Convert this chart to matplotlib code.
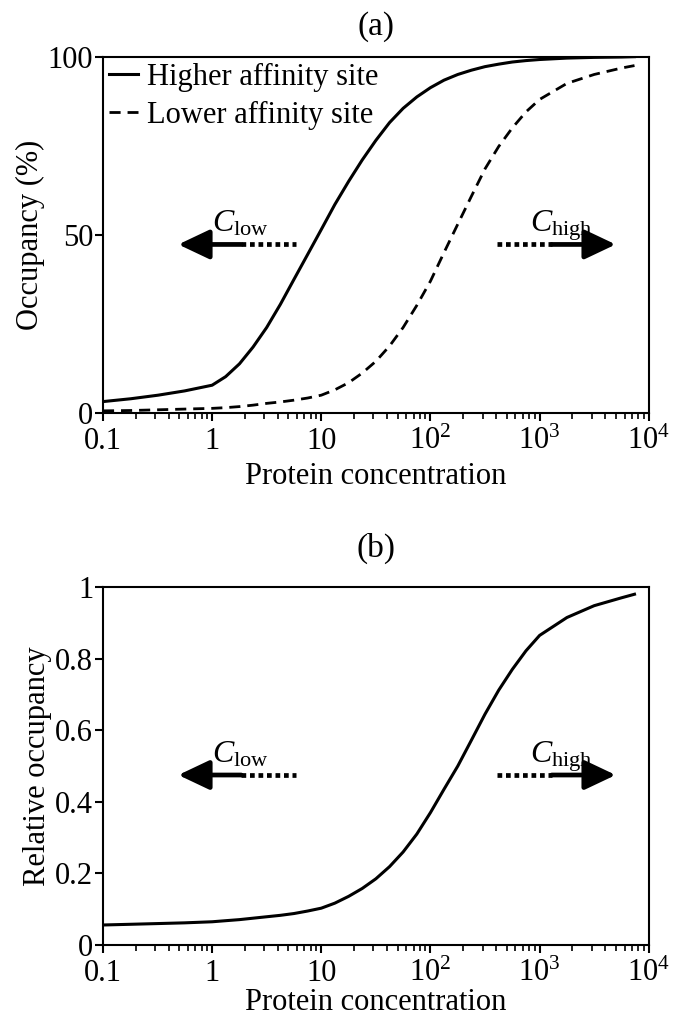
import numpy as np
import matplotlib
matplotlib.use("Agg")
import matplotlib.pyplot as plt
from matplotlib.ticker import FixedLocator, FixedFormatter, LogLocator, NullFormatter

plt.rcParams['font.family'] = ['Liberation Serif', 'DejaVu Serif']
plt.rcParams['mathtext.fontset'] = 'custom'
plt.rcParams['mathtext.rm'] = 'Liberation Serif'
plt.rcParams['mathtext.it'] = 'Liberation Serif:italic'

# concentrations
conc = [0.1, 0.18, 0.32, 0.56, 1, 1.33, 1.78, 2.37, 3.16, 4.22, 5.62, 7.5,
        10, 13.3, 17.8, 23.7, 31.6, 42.2, 56.2, 75, 100, 133, 178, 237, 316,
        422, 562, 750, 1000, 1780, 3160, 5620, 7400]

# (a) occupancy in %
high_site = [3.2, 4.0, 5.0, 6.2, 7.8, 10.2, 13.8, 18.5, 24, 30.5, 37.5, 44.5,
             51.5, 58.5, 65, 71, 76.5, 81.5, 85.5, 88.7, 91.3, 93.4, 95, 96.2, 97.2,
             97.9, 98.5, 98.9, 99.2, 99.6, 99.8, 99.9, 100]
low_site = [0.6, 0.7, 0.9, 1.1, 1.3, 1.5, 1.8, 2.2, 2.7, 3.1, 3.6, 4.2,
            5.0, 6.5, 8.5, 11.2, 14.5, 18.8, 24, 30.2, 37, 45, 53, 60.8, 68.5,
            74.8, 80, 84.5, 88, 92.5, 95, 96.8, 97.5]

# (b) relative occupancy
relative = [0.056, 0.058, 0.06, 0.062, 0.065, 0.068, 0.071, 0.075, 0.079, 0.083, 0.088, 0.095,
            0.103, 0.117, 0.136, 0.158, 0.185, 0.219, 0.26, 0.31, 0.37, 0.435, 0.50, 0.572, 0.645,
            0.712, 0.77, 0.822, 0.865, 0.915, 0.948, 0.97, 0.98]

xticks = [0.1, 1, 10, 100, 1000, 10000]
xticklabels = ['0.1', '1', '10', '$10^2$', '$10^3$', '$10^4$']

FS = 22


def style_axis(ax, ylim, yticks, yticklabels, ylabel, title, title_pad, xlabel_pad):
    ax.set_xscale('log')
    ax.set_xlim(0.1, 1e4)
    ax.set_ylim(*ylim)
    ax.xaxis.set_major_locator(FixedLocator(xticks))
    ax.xaxis.set_major_formatter(FixedFormatter(xticklabels))
    ax.xaxis.set_minor_locator(LogLocator(base=10, subs=np.arange(2, 10)))
    ax.xaxis.set_minor_formatter(NullFormatter())
    ax.set_yticks(yticks)
    ax.set_yticklabels(yticklabels)
    ax.tick_params(axis='both', which='major', direction='out', length=6,
                   width=1.5, labelsize=FS, pad=1)
    ax.tick_params(axis='x', which='minor', direction='out', length=4, width=1.2)
    ax.tick_params(axis='x', which='major', pad=4)
    for s in ax.spines.values():
        s.set_linewidth(1.5)
    ax.set_xlabel('Protein concentration', fontsize=FS, labelpad=xlabel_pad)
    ax.set_ylabel(ylabel, fontsize=FS, labelpad=2)
    ax.set_title(title, fontsize=24, pad=title_pad)


def draw_arrows(ax, y, ytext):
    # C_low: dotted tail, solid shaft, arrowhead to the left
    ax.plot([1.85, 5.9], [y, y], color='k', lw=3.4, linestyle=(0, (1, 0.8)),
            dash_capstyle='butt')
    ax.annotate('', xy=(0.49, y), xytext=(1.85, y),
                arrowprops=dict(arrowstyle='-|>,head_length=1.9,head_width=0.9',
                                mutation_scale=10, lw=3.4, color='k',
                                shrinkA=0, shrinkB=0))
    ax.text(1.0, ytext, r'$C_{\mathrm{low}}$', fontsize=23, ha='left', va='baseline')
    # C_high: dotted tail, solid shaft, arrowhead to the right
    ax.plot([405, 1290], [y, y], color='k', lw=3.4, linestyle=(0, (1, 0.8)),
            dash_capstyle='butt')
    ax.annotate('', xy=(4980, y), xytext=(1290, y),
                arrowprops=dict(arrowstyle='-|>,head_length=1.9,head_width=0.9',
                                mutation_scale=10, lw=3.4, color='k',
                                shrinkA=0, shrinkB=0))
    ax.text(820, ytext, r'$C_{\mathrm{high}}$', fontsize=23, ha='left', va='baseline')


fig = plt.figure(figsize=(6.73, 10.21), dpi=100)

ax1 = fig.add_axes([0.153, 0.5955, 0.811, 0.349])
ax1.plot(conc, high_site, color='k', lw=2.2, label='Higher affinity site')
ax1.plot(conc, low_site, color='k', lw=2.0, linestyle=(0, (4, 2.5)),
         label='Lower affinity site')
style_axis(ax1, (0, 100), [0, 50, 100], ['0', '50', '100'], 'Occupancy (%)', '(a)', 16, 4)
draw_arrows(ax1, 47.3, 51)
ax1.legend(loc='upper left', frameon=False, fontsize=FS, handlelength=0.95,
           handletextpad=0.3, borderaxespad=0.05, borderpad=0.15, labelspacing=0.3)

ax2 = fig.add_axes([0.153, 0.0744, 0.811, 0.3506])
ax2.plot(conc, relative, color='k', lw=2.2)
style_axis(ax2, (0, 1), [0, 0.2, 0.4, 0.6, 0.8, 1],
           ['0', '0.2', '0.4', '0.6', '0.8', '1'], 'Relative occupancy', '(b)', 22, 0)
draw_arrows(ax2, 0.475, 0.51)

fig.savefig('out.png', dpi=100)
